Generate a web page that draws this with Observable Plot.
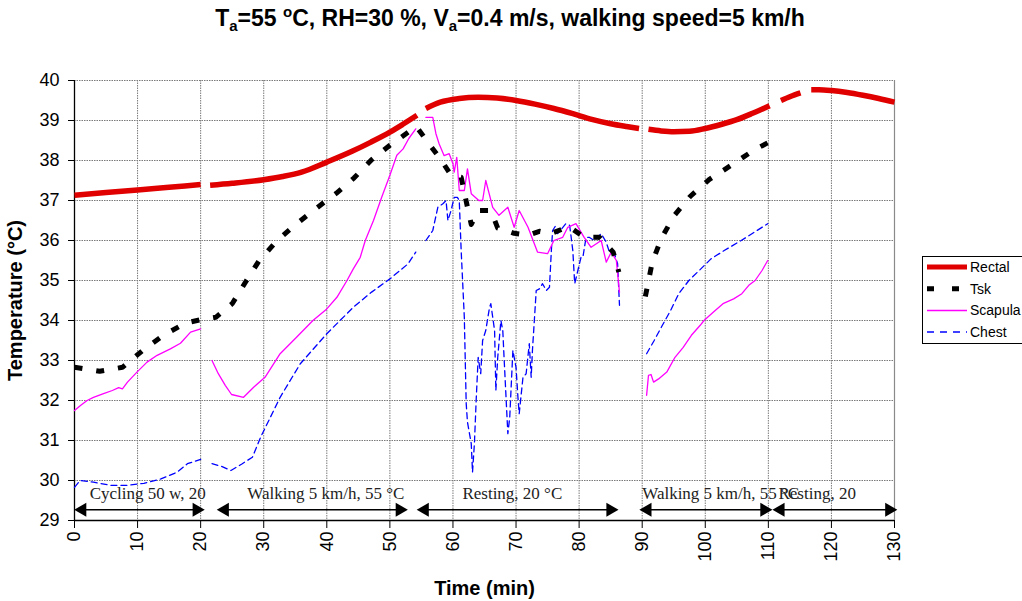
<!DOCTYPE html>
<html>
<head>
<meta charset="utf-8">
<script src="https://cdn.jsdelivr.net/npm/d3@7"></script>
<script src="https://cdn.jsdelivr.net/npm/@observablehq/plot@0.6"></script>
<style>
  html, body { margin: 0; padding: 0; background: #fff; overflow: hidden; }
  #wrap { position: relative; width: 1022px; height: 601px; font-family: "Liberation Sans", Arial, sans-serif; }
  #title { position: absolute; left: 0; top: 4px; width: 1020px; text-align: center; font-weight: bold; font-size: 23px; line-height: 28px; white-space: nowrap; }
  #title sub { font-size: 15px; vertical-align: -5px; line-height: 0; }
  #title sup { font-size: 15px; vertical-align: 9px; line-height: 0; }
  #legend { position: absolute; left: 922px; top: 256px; width: 110px; height: 86px; border: 1px solid #000; background: #fff; }
</style>
</head>
<body>
<div id="wrap">
  <div id="chart"></div>
  <div id="title">T<sub>a</sub>=55 <sup>o</sup>C, RH=30 %, V<sub>a</sub>=0.4 m/s, walking speed=5 km/h</div>
  <div id="legend"></div>
</div>
<script>
// ---- data (time in minutes, temperature in °C); null marks a gap in the record ----
const rectalTime = [0, 5, 10, 15, 20, 20.7, 21.5, 25, 30, 33, 36, 40, 44, 47, 50, 52, 54.3, 55, 55.7, 58, 61, 64, 67, 70, 73, 76, 79, 82, 85, 87.5, 89.5, 90.2, 91, 93, 95, 97.5, 100, 102.5, 105, 107.5, 110.2, 111, 112, 113.5, 115.1, 116, 116.8, 118, 120, 122.5, 125, 127.5, 130];
const rectalTemp = [37.13, 37.2, 37.26, 37.33, 37.4, null, 37.38, 37.43, 37.52, 37.6, 37.71, 37.96, 38.23, 38.46, 38.71, 38.9, 39.13, null, 39.3, 39.46, 39.55, 39.58, 39.56, 39.5, 39.41, 39.3, 39.17, 39.03, 38.92, 38.85, 38.8, null, 38.78, 38.74, 38.72, 38.73, 38.8, 38.9, 39.02, 39.18, 39.37, null, 39.5, 39.6, 39.69, null, 39.77, 39.77, 39.75, 39.7, 39.63, 39.55, 39.46];

const tskTime = [0, 4, 7.6, 10.8, 14.1, 17.5, 20, 22.4, 25, 27, 29.2, 32, 35, 38.2, 41.5, 44.3, 47.1, 50, 53.1, 54.2, 56, 58.1, 59.7, 61.3, 62, 62.9, 64, 66, 67.1, 68.4, 69.7, 71.9, 73.7, 75.5, 78.4, 80.8, 83.2, 85.4, 86.3, 88, 90.5, 91.6, 93, 95.1, 97.6, 100.6, 104.1, 107.6, 110];
const tskTemp = [32.83, 32.73, 32.83, 33.25, 33.63, 33.93, 34.02, 34.08, 34.42, 34.93, 35.48, 35.98, 36.39, 36.79, 37.18, 37.56, 38.02, 38.38, 38.73, 38.85, 38.46, 38.02, 37.63, 37.58, 37.05, 36.4, 36.75, 36.75, 36.31, 36.25, 36.18, 36.13, 36.23, 36.17, 36.35, 36.08, 36.08, 35.71, 35.21, null, 34.6, 35.46, 36.04, 36.63, 37.1, 37.52, 37.88, 38.25, 38.45];

const scapulaTime = [0, 1, 2, 3, 4.6, 6, 7, 7.6, 8.4, 9.9, 11.5, 13.1, 15.2, 16.8, 18.4, 20, 20.9,
  21.8, 22.8, 23.9, 24.9, 26.8, 28.4, 30.2, 32.6, 35.2, 37.8, 40, 41.6, 43.2, 44.2, 45.3, 46.1, 47.4, 48.7, 50, 51.1, 52.1, 53, 54.1, 54.9,
  55.7, 56.8, 57.3, 57.8, 58.6, 59.4, 60, 60.2, 60.6, 61, 61.8, 62.3, 62.9, 64.1, 64.7, 65.2, 66.3, 67.3, 68.7, 69.7, 70.5, 71.9, 73.4, 75, 76, 77.4, 78.2, 79.5, 80.8, 81.9, 83.5, 84.3, 85.1, 85.9, 86.4, 88,
  90.7, 91, 91.4, 91.8, 92.6, 93.9, 95.2, 96.5, 97.8, 99.2, 99.8, 101.3, 102.9, 104.5, 105.8, 106.9, 107.9, 109, 109.9];
const scapulaTemp = [31.75, 31.88, 32.0, 32.08, 32.17, 32.25, 32.32, 32.29, 32.46, 32.71, 32.96, 33.13, 33.29, 33.43, 33.71, 33.79, null,
  33.0, 32.67, 32.38, 32.15, 32.08, 32.33, 32.58, 33.17, 33.58, 34.0, 34.29, 34.58, 35.0, 35.29, 35.58, 36.0, 36.5, 37.08, 37.63, 38.13, 38.29, 38.55, 38.79, null,
  39.08, 39.08, 38.67, 38.42, 38.12, 38.17, 37.92, 37.71, 38.08, 37.25, 37.25, 37.79, 37.17, 37.0, 37.0, 37.5, 36.83, 36.63, 36.83, 36.33, 36.75, 36.33, 35.71, 35.67, 36.0, 36.08, 36.33, 36.42, 36.08, 35.83, 36.0, 35.46, 35.71, 35.5, 34.71, null,
  32.13, 32.63, 32.65, 32.46, 32.54, 32.71, 33.08, 33.33, 33.63, 33.88, 34.0, 34.21, 34.43, 34.54, 34.67, 34.88, 35.0, 35.25, 35.5];

const chestTime = [0, 0.9, 3, 5.7, 8.4, 11, 13.7, 16.3, 17.9, 20, 20.9,
  21.8, 23.2, 24.8, 26.6, 28.2, 29.5, 32.6, 35.8, 40, 44.2, 47.1, 50, 52.9, 54.1, 54.9,
  55.7, 56.8, 57.6, 58.4, 58.9, 59.2, 59.7, 60.2, 60.7, 61, 61.3, 61.8, 62.1, 62.3, 62.9, 63.1, 63.4, 63.7, 64, 64.4, 64.7, 65.2, 65.8, 66, 66.6, 66.8, 67.1, 67.6, 67.9, 68.1, 68.7, 69, 69.5, 70, 70.3, 70.5, 71.1, 71.6, 72.1, 72.4, 72.6, 73.2, 73.7, 74.2, 74.8, 75.3, 75.6, 75.8, 76.2, 76.6, 77.9, 78.5, 79, 79.3, 79.8, 80.3, 80.6, 81.1, 81.6, 82.4, 83.5, 84.3, 84.8, 85.6, 86.1, 86.4, 88,
  90.7, 91.9, 93.2, 94.5, 95.8, 97.4, 99.3, 100.9, 103, 105.7, 107.8, 109.9];
const chestTemp = [29.83, 30.0, 29.96, 29.88, 29.88, 29.93, 30.04, 30.21, 30.42, 30.53, null,
  30.42, 30.36, 30.25, 30.42, 30.58, 31.08, 32.08, 32.92, 33.67, 34.33, 34.71, 35.04, 35.42, 35.71, null,
  36.0, 36.25, 36.83, 36.92, 37.0, 36.5, 36.75, 37.08, 37.08, 37.0, 35.75, 34.08, 31.92, 31.46, 30.92, 30.21, 30.92, 32.08, 33.08, 32.67, 33.5, 33.75, 34.33, 34.42, 33.75, 32.25, 33.08, 34.0, 33.75, 33.08, 31.17, 31.58, 33.25, 32.83, 32.08, 31.67, 32.58, 32.67, 33.42, 32.58, 33.25, 34.75, 34.79, 34.92, 34.75, 34.83, 35.75, 36.25, 36.35, 36.17, 36.42, 36.38, 35.75, 34.92, 35.25, 35.58, 35.58, 36.08, 36.08, 36.0, 36.17, 35.96, 35.71, 35.67, 35.42, 34.38, null,
  33.17, 33.5, 33.88, 34.25, 34.67, 35.0, 35.29, 35.54, 35.75, 36.0, 36.21, 36.42];

const phaseLabels = ["Cycling 50 w, 20", "Walking 5 km/h, 55 \u00B0C", "Resting, 20 \u00B0C", "Walking 5 km/h, 55 \u00B0C", "Resting, 20"];
const phaseStart = [0.6, 23.2, 54.9, 90.2, 111.3];
const phaseEnd = [20, 52.2, 85.6, 110, 129.8];
const labelTime = [2.4, 27.4, 61.5, 90.0, 111.6];

const seriesNames = ["Rectal", "Tsk", "Scapula", "Chest"];
const yTicks = [29, 30, 31, 32, 33, 34, 35, 36, 37, 38, 39, 40];
const xTicks = [0, 10, 20, 30, 40, 50, 60, 70, 80, 90, 100, 110, 120, 130];

// ---- build tables ----
const toRows = (t, v) => t.map((x, i) => ({time: x, temp: v[i]}));
const rectal = toRows(rectalTime, rectalTemp);
const tsk = toRows(tskTime, tskTemp);
const scapula = toRows(scapulaTime, scapulaTemp);
const chest = toRows(chestTime, chestTemp);
const phases = phaseLabels.map((l, i) => ({label: l, x1: phaseStart[i], x2: phaseEnd[i], lx: labelTime[i]}));

const arrowY = 29.27;
const labelY = 29.68;
const grid = {stroke: "#7a7a7a", strokeOpacity: 1, strokeWidth: 1, strokeDasharray: "1.5,1"};

const chart = Plot.plot({
  width: 1022,
  height: 601,
  marginLeft: 74,
  marginRight: 128,
  marginTop: 80,
  marginBottom: 81,
  style: {fontFamily: "'Liberation Sans', Arial, sans-serif", background: "#fff", color: "#000"},
  x: {domain: [0, 130]},
  y: {domain: [29, 40]},
  marks: [
    Plot.gridY(yTicks.slice(1), grid),
    Plot.gridX(xTicks.slice(1, -1), grid),
    Plot.ruleX([130], {stroke: "#8a8a8a", strokeWidth: 1.2}),
    Plot.axisY({ticks: yTicks, tickSize: 6, tickPadding: 9, fontSize: 18, label: null, tickFormat: d => String(d)}),
    Plot.axisX({ticks: xTicks, tickSize: 8, tickPadding: 3, tickRotate: -90, fontSize: 18, label: null, tickFormat: d => String(d)}),
    Plot.ruleX([0], {stroke: "#000", strokeWidth: 1.3}),
    Plot.ruleY([29], {stroke: "#000", strokeWidth: 1.3}),
    // phase annotations
    Plot.link(phases, {x1: "x1", x2: "x2", y1: () => arrowY, y2: () => arrowY, stroke: "#000", strokeWidth: 1.6}),
    Plot.dot(phases, {x: "x1", y: () => arrowY, symbol: "triangle", rotate: -90, r: 5.2, fill: "#000", stroke: "none", dx: 4}),
    Plot.dot(phases, {x: "x2", y: () => arrowY, symbol: "triangle", rotate: 90, r: 5.2, fill: "#000", stroke: "none", dx: -4}),
    Plot.text(phases, {x: "lx", y: () => labelY, text: "label", textAnchor: "start", fontFamily: "'Liberation Serif', 'Times New Roman', serif", fontSize: 17, fill: "#222"}),
    // series
    Plot.line(chest, {x: "time", y: "temp", stroke: "#0000ff", strokeWidth: 1.3, strokeDasharray: "6,4"}),
    Plot.line(scapula, {x: "time", y: "temp", stroke: "#ff00ff", strokeWidth: 1.3}),
    Plot.line(tsk, {x: "time", y: "temp", stroke: "#000", strokeWidth: 5, strokeDasharray: "8,14", strokeLinecap: "butt"}),
    Plot.line(rectal, {x: "time", y: "temp", stroke: "#e00000", strokeWidth: 5.5, curve: "monotone-x", strokeLinecap: "butt"}),
    // axis titles
    Plot.text(["Time (min)"], {frameAnchor: "bottom", lineAnchor: "middle", dy: 68, fontWeight: "bold", fontSize: 20}),
    Plot.text(["Temperature (\u00B0C)"], {frameAnchor: "left", textAnchor: "middle", lineAnchor: "middle", dx: -59, rotate: -90, fontWeight: "bold", fontSize: 20})
  ]
});
document.getElementById("chart").appendChild(chart);

// ---- legend ----
const legendStyles = [
  {stroke: "#e00000", width: 5, dash: null},
  {stroke: "#000", width: 5, dash: "7,18"},
  {stroke: "#ff00ff", width: 1.5, dash: null},
  {stroke: "#0000ff", width: 1.5, dash: "7,6"}
];
const ns = "http://www.w3.org/2000/svg";
const lsvg = document.createElementNS(ns, "svg");
lsvg.setAttribute("width", 110);
lsvg.setAttribute("height", 86);
lsvg.style.display = "block";
seriesNames.forEach((name, i) => {
  const y = 10 + i * 21.7;
  const ln = document.createElementNS(ns, "line");
  ln.setAttribute("x1", 4); ln.setAttribute("x2", 44);
  ln.setAttribute("y1", y); ln.setAttribute("y2", y);
  ln.setAttribute("stroke", legendStyles[i].stroke);
  ln.setAttribute("stroke-width", legendStyles[i].width);
  if (legendStyles[i].dash) ln.setAttribute("stroke-dasharray", legendStyles[i].dash);
  lsvg.appendChild(ln);
  const tx = document.createElementNS(ns, "text");
  tx.setAttribute("x", 47); tx.setAttribute("y", y + 5);
  tx.setAttribute("font-size", 14);
  tx.setAttribute("font-family", "'Liberation Sans', Arial, sans-serif");
  tx.textContent = name;
  lsvg.appendChild(tx);
});
document.getElementById("legend").appendChild(lsvg);
</script>
</body>
</html>
